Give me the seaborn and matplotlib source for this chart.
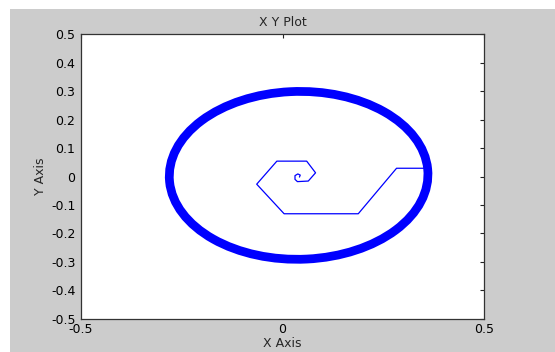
import matplotlib
matplotlib.use("Agg")
import matplotlib.pyplot as plt
from matplotlib.patches import Ellipse, Rectangle
import pandas as pd
import seaborn as sns

# Transient trajectory spiralling out from the fixed point to the cycle
path_x = [0.042, 0.044, 0.038, 0.031, 0.031, 0.037, 0.064, 0.082, 0.060,
          -0.014, -0.064, 0.004, 0.188, 0.283, 0.350]
path_y = [-0.002, 0.005, 0.009, 0.003, -0.010, -0.018, -0.016, 0.013, 0.054,
          0.054, -0.027, -0.131, -0.131, 0.029, 0.029]

# Limit cycle (noisy band)
cycle_center = (0.040, 0.004)
cycle_radius_x = 0.321
cycle_radius_y = 0.295
cycle_tilt_deg = 4.0

x_ticks = [-0.5, 0, 0.5]
y_ticks = [-0.5, -0.4, -0.3, -0.2, -0.1, 0, 0.1, 0.2, 0.3, 0.4, 0.5]
x_tick_labels = ["-0.5", "0", "0.5"]
y_tick_labels = ["-0.5", "-0.4", "-0.3", "-0.2", "-0.1", "0",
                 "0.1", "0.2", "0.3", "0.4", "0.5"]

sns.set_style("white")
plt.rcParams["font.family"] = ["DejaVu Sans"]
plt.rcParams["axes.unicode_minus"] = False

blue = "#0000ff"

fig = plt.figure(figsize=(5.55, 3.52), dpi=100)
fig.patch.set_facecolor("white")
fig.add_artist(Rectangle((10 / 555, 0), 1 - 10 / 555, 343 / 352,
                         transform=fig.transFigure, facecolor="#cccccc",
                         edgecolor="none", zorder=0))

ax = fig.add_axes([81 / 555, 33.3 / 352, 403 / 555, 284.4 / 352])
ax.set_facecolor("white")

ring = Ellipse(cycle_center, 2 * cycle_radius_x, 2 * cycle_radius_y,
               angle=cycle_tilt_deg, facecolor="none", edgecolor=blue,
               linewidth=6.3, zorder=2)
ax.add_patch(ring)

df = pd.DataFrame({"x": path_x, "y": path_y})
sns.lineplot(data=df, x="x", y="y", sort=False, estimator=None,
             color=blue, linewidth=0.9, ax=ax, zorder=3)

ax.set_xlim(-0.5, 0.5)
ax.set_ylim(-0.5, 0.5)
ax.set_xticks(x_ticks)
ax.set_xticklabels(x_tick_labels)
ax.set_yticks(y_ticks)
ax.set_yticklabels(y_tick_labels)
ax.tick_params(direction="in", length=3, width=0.8, labelsize=9,
               top=True, right=True, colors="#222222", labelcolor="black",
               pad=3)
ax.tick_params(axis="y", pad=4)
for s in ax.spines.values():
    s.set_visible(True)
    s.set_color("#333333")
    s.set_linewidth(0.9)

ax.set_title("X Y Plot", fontsize=9, pad=6)
ax.set_xlabel("X Axis", fontsize=9, labelpad=1)
ax.set_ylabel("Y Axis", fontsize=9, labelpad=3)

fig.savefig("out.png", dpi=100)
